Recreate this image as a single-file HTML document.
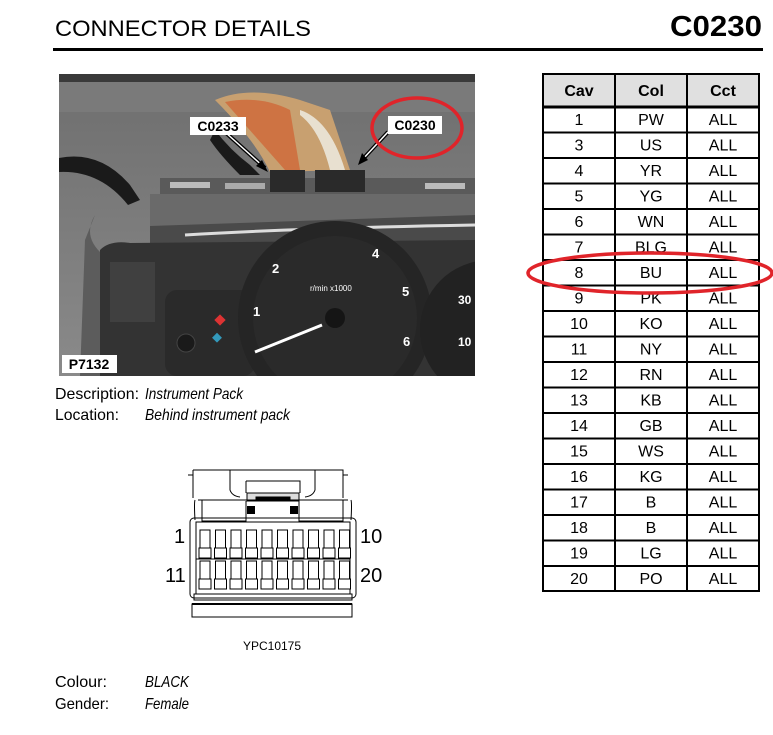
<!DOCTYPE html>
<html><head><meta charset="utf-8"><style>
html,body{margin:0;padding:0;background:#fff;}
svg{display:block;}
text{font-family:"Liberation Sans",Arial,sans-serif;}
</style></head><body>
<svg width="773" height="735" viewBox="0 0 773 735" xmlns="http://www.w3.org/2000/svg">
<text x="55" y="36" font-size="22" textLength="256" lengthAdjust="spacingAndGlyphs">CONNECTOR DETAILS</text>
<text x="762" y="36" font-size="29" font-weight="bold" text-anchor="end" textLength="92" lengthAdjust="spacingAndGlyphs">C0230</text>
<rect x="53" y="48" width="710" height="3" fill="#000"/>

<defs>
<clipPath id="ph"><rect x="59" y="74" width="416" height="302"/></clipPath>
<linearGradient id="bg" x1="0" y1="0" x2="0" y2="1"><stop offset="0" stop-color="#6e6e6e"/><stop offset="1" stop-color="#8a8a8a"/></linearGradient>
</defs>
<g clip-path="url(#ph)">
<rect x="59" y="74" width="416" height="302" fill="url(#bg)"/>
<rect x="59" y="74" width="416" height="8" fill="#3a3a3a"/>
<rect x="59" y="82" width="416" height="30" fill="#7a7a7a"/>
<path d="M59 158 Q100 150 130 185 L140 200 L128 205 Q100 170 59 172 Z" fill="#1a1a1a"/>
<path d="M95 215 Q80 240 110 260 L105 376 L80 376 L85 240 Z" fill="#5c5c5c"/>
<path d="M215 100 Q250 85 300 100 L330 110 Q340 140 350 170 L270 172 Q255 140 215 100 Z" fill="#c8a070"/>
<path d="M225 102 Q260 95 290 110 L300 170 L285 170 Z" fill="#d06030" opacity=".7"/>
<path d="M300 110 Q330 120 345 170 L330 170 Q320 130 300 115 Z" fill="#e8e0d0"/>
<path d="M215 130 Q230 150 250 165 L260 175 L240 175 Q220 155 210 140 Z" fill="#1a1a1a"/>
<rect x="160" y="178" width="315" height="16" fill="#5a5a5a"/>
<rect x="170" y="182" width="40" height="6" fill="#bbb"/>
<rect x="225" y="183" width="40" height="6" fill="#aaa"/>
<rect x="425" y="183" width="40" height="6" fill="#bbb"/>
<rect x="270" y="170" width="35" height="22" fill="#2a2a2a"/>
<rect x="315" y="170" width="50" height="22" fill="#2a2a2a"/>
<rect x="150" y="194" width="325" height="32" fill="#6a6a6a"/>
<path d="M150 226 L475 215 L475 245 L150 250 Z" fill="#4a4a4a"/>
<path d="M185 235 Q300 228 475 225" stroke="#ddd" stroke-width="3" fill="none"/>
<path d="M100 250 Q110 240 130 243 L475 240 L475 376 L100 376 Z" fill="#333"/>
<rect x="165" y="290" width="90" height="86" rx="12" fill="#2a2a2a"/>
<rect x="110" y="262" width="45" height="60" fill="#4a4a4a" opacity=".6"/>
<circle cx="335" cy="318" r="97" fill="#252525"/>
<circle cx="335" cy="318" r="82" fill="#2a2a2a"/>
<circle cx="335" cy="318" r="10" fill="#151515"/>
<line x1="322" y1="325" x2="255" y2="352" stroke="#fff" stroke-width="3"/>
<circle cx="490" cy="330" r="70" fill="#222"/>
<g font-size="13" font-weight="bold" fill="#fff">
<text x="272" y="273">2</text><text x="372" y="258">4</text>
<text x="402" y="296">5</text><text x="403" y="346">6</text>
<text x="253" y="316">1</text><text x="458" y="304" font-size="12">30</text><text x="458" y="346" font-size="12">10</text>
</g>
<text x="310" y="291" font-size="8" fill="#fff">r/min x1000</text>
<rect x="216" y="316" width="8" height="8" fill="#d33" transform="rotate(45 220 320)"/>
<rect x="214" y="334" width="7" height="7" fill="#39b" transform="rotate(45 217 337)"/>
<circle cx="186" cy="343" r="9" fill="#1a1a1a" stroke="#444"/>
<line x1="225" y1="132" x2="265" y2="168" stroke="#000" stroke-width="4"/>
<line x1="225" y1="132" x2="265" y2="168" stroke="#fff" stroke-width="1.5"/>
<path d="M268 172 L256 166 L262 160 Z" fill="#000"/>
<line x1="388" y1="132" x2="362" y2="160" stroke="#000" stroke-width="4"/>
<line x1="388" y1="132" x2="362" y2="160" stroke="#fff" stroke-width="1.5"/>
<path d="M358 165 L362 153 L368 160 Z" fill="#000"/>
<rect x="190" y="117" width="56" height="18" fill="#fff"/>
<text x="218" y="131" font-size="14" font-weight="bold" text-anchor="middle">C0233</text>
<rect x="388" y="116" width="54" height="18" fill="#fff"/>
<text x="415" y="130" font-size="14" font-weight="bold" text-anchor="middle">C0230</text>
<ellipse cx="417" cy="128" rx="45" ry="30" fill="none" stroke="#e0242a" stroke-width="3.5"/>
<rect x="62" y="355" width="55" height="18" fill="#fff"/>
<text x="89" y="369" font-size="14" font-weight="bold" text-anchor="middle">P7132</text>
</g>

<g font-size="16">
<text x="55" y="399" textLength="84" lengthAdjust="spacingAndGlyphs">Description:</text>
<text x="145" y="399" font-style="italic" textLength="98" lengthAdjust="spacingAndGlyphs">Instrument Pack</text>
<text x="55" y="420" textLength="64" lengthAdjust="spacingAndGlyphs">Location:</text>
<text x="145" y="420" font-style="italic" textLength="145" lengthAdjust="spacingAndGlyphs">Behind instrument pack</text>
<text x="55" y="687" textLength="52" lengthAdjust="spacingAndGlyphs">Colour:</text>
<text x="145" y="687" font-style="italic" textLength="44" lengthAdjust="spacingAndGlyphs">BLACK</text>
<text x="55" y="709" textLength="54" lengthAdjust="spacingAndGlyphs">Gender:</text>
<text x="145" y="709" font-style="italic" textLength="44" lengthAdjust="spacingAndGlyphs">Female</text>
</g>

<g fill="none" stroke="#000" stroke-width="1">
<path d="M193 470 L193 498 M193 470 L343 470 L343 498"/>
<path d="M188 475 L193 475 M343 475 L348 475"/>
<path d="M230 470 L230 490 Q232 496 240 497"/>
<path d="M315 470 L315 490 Q313 496 305 497"/>
<path d="M246 481 L300 481 L300 493"/>
<path d="M246 481 L246 493"/>
<rect x="247" y="493" width="52" height="8" fill="#ddd"/>
<rect x="256" y="497" width="34" height="4" fill="#000"/>
<path d="M198 500 L348 500 M195 500 Q194 503 195 520 M351 500 Q352 503 351 520"/>
<path d="M202 500 L202 521 L246 521 L246 501 M299 501 L299 521 L343 521 L343 500"/>
<rect x="247" y="506" width="8" height="8" fill="#000" stroke="none"/>
<rect x="290" y="506" width="8" height="8" fill="#000" stroke="none"/>
<rect x="190" y="518" width="166" height="80" rx="4"/>
<rect x="196" y="522" width="154" height="72"/>
<rect x="194" y="594" width="158" height="6"/>
<rect x="192" y="604" width="160" height="13"/>
<path d="M192 604 L352 604" stroke-width="2"/>
</g>
<g stroke="#000" stroke-width="1" fill="#fff">
<g id="row1">
<g transform="translate(199,530)"><rect x="1" y="0" width="10" height="18" fill="none"/><rect x="0" y="18" width="12" height="10"/></g>
<g transform="translate(214.5,530)"><rect x="1" y="0" width="10" height="18" fill="none"/><rect x="0" y="18" width="12" height="10"/></g>
<g transform="translate(230,530)"><rect x="1" y="0" width="10" height="18" fill="none"/><rect x="0" y="18" width="12" height="10"/></g>
<g transform="translate(245.5,530)"><rect x="1" y="0" width="10" height="18" fill="none"/><rect x="0" y="18" width="12" height="10"/></g>
<g transform="translate(261,530)"><rect x="1" y="0" width="10" height="18" fill="none"/><rect x="0" y="18" width="12" height="10"/></g>
<g transform="translate(276.5,530)"><rect x="1" y="0" width="10" height="18" fill="none"/><rect x="0" y="18" width="12" height="10"/></g>
<g transform="translate(292,530)"><rect x="1" y="0" width="10" height="18" fill="none"/><rect x="0" y="18" width="12" height="10"/></g>
<g transform="translate(307.5,530)"><rect x="1" y="0" width="10" height="18" fill="none"/><rect x="0" y="18" width="12" height="10"/></g>
<g transform="translate(323,530)"><rect x="1" y="0" width="10" height="18" fill="none"/><rect x="0" y="18" width="12" height="10"/></g>
<g transform="translate(338.5,530)"><rect x="1" y="0" width="10" height="18" fill="none"/><rect x="0" y="18" width="12" height="10"/></g>
</g>
<use href="#row1" transform="translate(0,31)"/>
</g>
<line x1="196" y1="559" x2="350" y2="559" stroke="#000"/>
<g font-size="20">
<text x="174" y="543" font-family="Liberation Serif,serif">1</text>
<text x="360" y="543" font-family="Liberation Serif,serif">10</text>
<text x="165" y="582" font-family="Liberation Serif,serif">11</text>
<text x="360" y="582" font-family="Liberation Serif,serif">20</text>
</g>
<text x="272" y="650" font-size="12" text-anchor="middle">YPC10175</text>

<rect x="543" y="74" width="216" height="33" fill="#e0e0e0"/>
<g font-size="16" font-weight="bold" text-anchor="middle">
<text x="579" y="96">Cav</text><text x="651" y="96">Col</text><text x="723" y="96">Cct</text>
</g>
<g font-size="16" text-anchor="middle">
<text x="579" y="125">1</text><text x="651" y="125">PW</text><text x="723" y="125">ALL</text>
<text x="579" y="150.5">3</text><text x="651" y="150.5">US</text><text x="723" y="150.5">ALL</text>
<text x="579" y="176">4</text><text x="651" y="176">YR</text><text x="723" y="176">ALL</text>
<text x="579" y="201.5">5</text><text x="651" y="201.5">YG</text><text x="723" y="201.5">ALL</text>
<text x="579" y="227">6</text><text x="651" y="227">WN</text><text x="723" y="227">ALL</text>
<text x="579" y="252.5">7</text><text x="651" y="252.5">BLG</text><text x="723" y="252.5">ALL</text>
<text x="579" y="278">8</text><text x="651" y="278">BU</text><text x="723" y="278">ALL</text>
<text x="579" y="303.5">9</text><text x="651" y="303.5">PK</text><text x="723" y="303.5">ALL</text>
<text x="579" y="329">10</text><text x="651" y="329">KO</text><text x="723" y="329">ALL</text>
<text x="579" y="354.5">11</text><text x="651" y="354.5">NY</text><text x="723" y="354.5">ALL</text>
<text x="579" y="380">12</text><text x="651" y="380">RN</text><text x="723" y="380">ALL</text>
<text x="579" y="405.5">13</text><text x="651" y="405.5">KB</text><text x="723" y="405.5">ALL</text>
<text x="579" y="431">14</text><text x="651" y="431">GB</text><text x="723" y="431">ALL</text>
<text x="579" y="456.5">15</text><text x="651" y="456.5">WS</text><text x="723" y="456.5">ALL</text>
<text x="579" y="482">16</text><text x="651" y="482">KG</text><text x="723" y="482">ALL</text>
<text x="579" y="507.5">17</text><text x="651" y="507.5">B</text><text x="723" y="507.5">ALL</text>
<text x="579" y="533">18</text><text x="651" y="533">B</text><text x="723" y="533">ALL</text>
<text x="579" y="558.5">19</text><text x="651" y="558.5">LG</text><text x="723" y="558.5">ALL</text>
<text x="579" y="584">20</text><text x="651" y="584">PO</text><text x="723" y="584">ALL</text>
</g>
<g stroke="#000" stroke-width="2" fill="none">
<rect x="543" y="74" width="216" height="517"/>
<line x1="615" y1="74" x2="615" y2="591"/>
<line x1="687" y1="74" x2="687" y2="591"/>
<line x1="543" y1="107" x2="759" y2="107" stroke-width="3"/>
<line x1="543" y1="132.5" x2="759" y2="132.5"/>
<line x1="543" y1="158" x2="759" y2="158"/>
<line x1="543" y1="183.5" x2="759" y2="183.5"/>
<line x1="543" y1="209" x2="759" y2="209"/>
<line x1="543" y1="234.5" x2="759" y2="234.5"/>
<line x1="543" y1="260" x2="759" y2="260"/>
<line x1="543" y1="285.5" x2="759" y2="285.5"/>
<line x1="543" y1="311" x2="759" y2="311"/>
<line x1="543" y1="336.5" x2="759" y2="336.5"/>
<line x1="543" y1="362" x2="759" y2="362"/>
<line x1="543" y1="387.5" x2="759" y2="387.5"/>
<line x1="543" y1="413" x2="759" y2="413"/>
<line x1="543" y1="438.5" x2="759" y2="438.5"/>
<line x1="543" y1="464" x2="759" y2="464"/>
<line x1="543" y1="489.5" x2="759" y2="489.5"/>
<line x1="543" y1="515" x2="759" y2="515"/>
<line x1="543" y1="540.5" x2="759" y2="540.5"/>
<line x1="543" y1="566" x2="759" y2="566"/>
</g>
<ellipse cx="650" cy="273" rx="122" ry="20" fill="none" stroke="#e0242a" stroke-width="3.5"/>
</svg>
</body></html>
